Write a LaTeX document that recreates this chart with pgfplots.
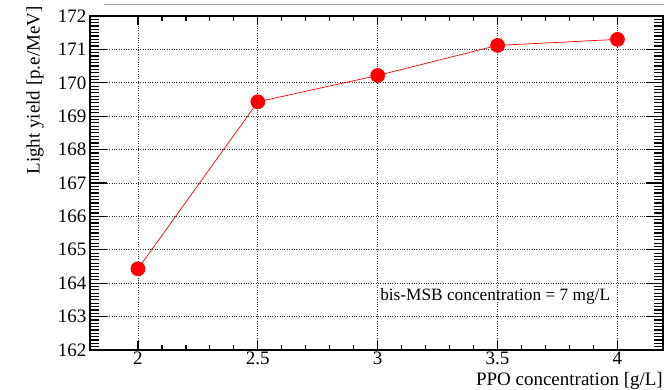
\documentclass[border=0pt]{standalone}
\usepackage{pgfplots}
\pgfplotsset{compat=1.18}
\usepackage{fontspec}
\setmainfont{Liberation Serif}
\pgfplotsset{
  layers/mylayers/.define layer set={axis background,axis grid,pre main,axis ticks,axis lines,axis tick labels,main,axis descriptions,axis foreground}{},
}
\begin{document}
\begin{tikzpicture}
\begin{axis}[
  set layers=mylayers,
  scale only axis,
  width=573pt, height=334pt,
  xmin=1.8, xmax=4.19,
  ymin=162, ymax=172,
  xtick={2,2.5,3,3.5,4},
  xticklabels={2,2.5,3,3.5,4},
  ytick={162,163,164,165,166,167,168,169,170,171,172},
  minor x tick num=4,
  minor y tick num=9,
  tick align=inside,
  tick pos=both,
  axis line style={line width=1.5pt, black},
  tick style={line width=1.2pt, black},
  major tick length=17pt,
  minor tick length=9pt,
  x tick style={/pgfplots/major tick length=9pt, /pgfplots/minor tick length=5pt},
  grid=major,
  grid style={dotted, black!80, line width=0.9pt},
  /pgf/number format/assume math mode=true,
  ticklabel style={font=\fontsize{19}{19}\selectfont},
  xticklabel style={yshift=0pt, inner sep=2pt},
  clip=false,
]
\begin{pgfonlayer}{pre main}
\fill[white] (axis cs:2.9625,162) rectangle (axis cs:4.19,164.95);
\end{pgfonlayer}
\addplot[red, line width=0.7pt, mark=*, mark size=7pt, mark options={fill=red, draw=red}]
  coordinates {(2,164.43) (2.5,169.43) (3,170.22) (3.5,171.12) (4,171.30)};
\node[font=\fontsize{17.3}{17.3}\selectfont, anchor=center] at (axis cs:3.49,163.6) {bis-MSB concentration = 7 mg/L};
\node[font=\fontsize{19}{19}\selectfont, anchor=north east, inner sep=0pt] at ([yshift=-22.5pt]rel axis cs:1,0) {PPO concentration [g/L]};
\node[font=\fontsize{19}{19}\selectfont, anchor=east, rotate=90, inner sep=0pt] at ([xshift=-55pt, yshift=10pt]rel axis cs:0,1) {Light yield [p.e/MeV]};
\draw[black!35, line width=1pt] ([xshift=14pt, yshift=11pt]rel axis cs:0,1) -- ([xshift=2pt, yshift=11pt]rel axis cs:1,1);
\coordinate (sw) at (rel axis cs:0,0);
\end{axis}
\pgfresetboundingbox
\path[use as bounding box] ([xshift=-90pt, yshift=-40pt]sw) rectangle ([xshift=574pt, yshift=350pt]sw);
\end{tikzpicture}
\end{document}
